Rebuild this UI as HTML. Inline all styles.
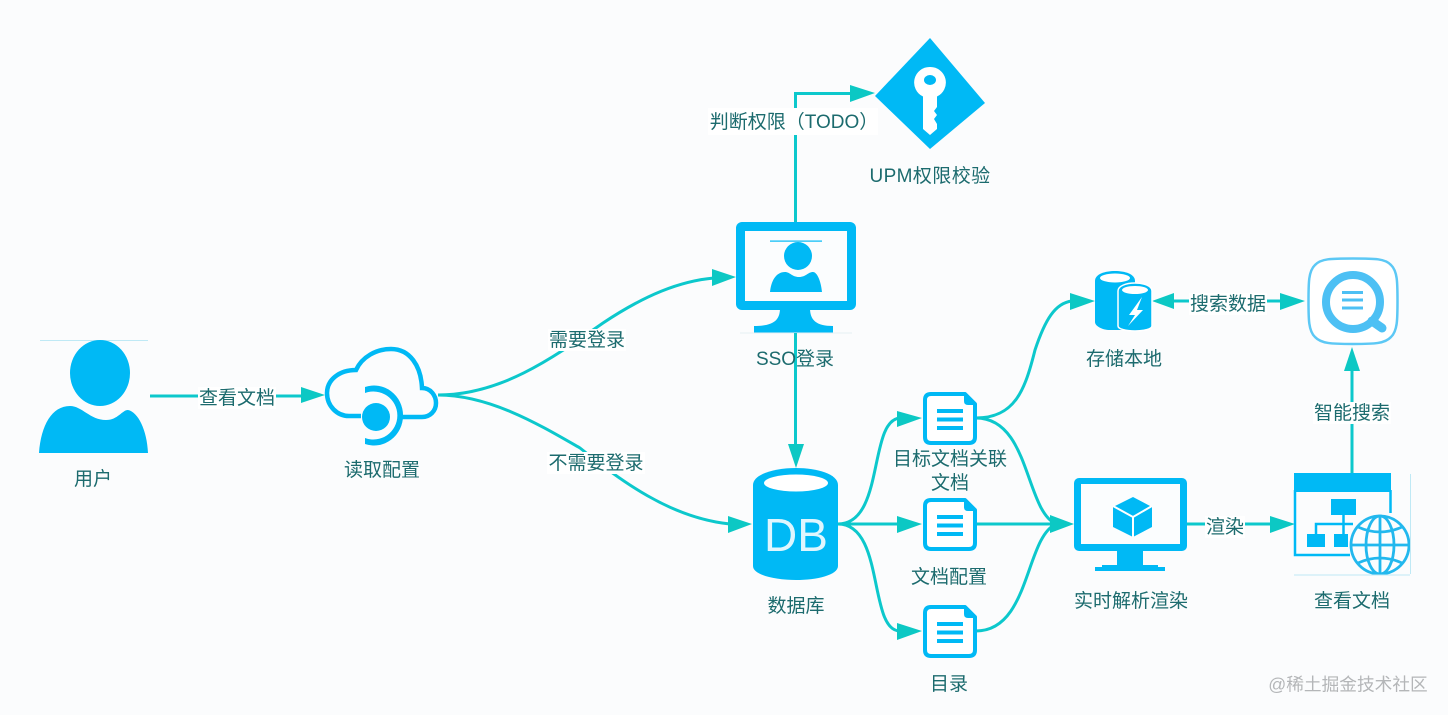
<!DOCTYPE html>
<html><head><meta charset="utf-8"><style>
html,body{margin:0;padding:0;background:#fbfcfd;width:1448px;height:715px;overflow:hidden}
svg{display:block}
text{font-family:"Liberation Sans","Noto Sans CJK SC",sans-serif;font-size:19px;fill:#1c6b6e;text-anchor:middle;dominant-baseline:central}
.c{fill:none;stroke:#0cc8cc;stroke-width:3}
.h{fill:#0cc8c4}
.b{fill:#00b9f5}
.d{fill:#fff;stroke:#00b9f5;stroke-width:4;stroke-linejoin:round}
.bg{fill:#fff}
</style></head><body>
<svg width="1448" height="715" viewBox="0 0 1448 715" xmlns="http://www.w3.org/2000/svg">
<defs>
<g id="doc">
<path class="d" d="M8 2H42L52 12V45Q52 51 46 51H8Q2 51 2 45V8Q2 2 8 2Z"/>
<path class="b" d="M41 1L53 13H45Q41 13 41 9Z"/>
<rect class="b" x="14" y="17" width="26" height="4"/>
<rect class="b" x="14" y="25.500" width="26" height="4"/>
<rect class="b" x="14" y="34" width="26" height="4"/>
</g>
</defs>

<!-- connectors -->
<path class="c" d="M150 396H305"/>
<path class="c" d="M438 395C500 395 550 360 603 323C645 295 680 281 714 278"/>
<path class="c" d="M438 395C490 395 540 425 580 448C620 480 670 518 730 524"/>
<path class="c" d="M795.500 222V93.500H852"/>
<path class="c" d="M795.500 333V446"/>
<path class="c" d="M838 524C885 524 868 420 900 418"/>
<path class="c" d="M838 524H900"/>
<path class="c" d="M838 524C885 524 868 631 900 631"/>
<path class="c" d="M976 418C1015 418 1025 390 1035 350C1045 320 1055 303 1072 301"/>
<path class="c" d="M976 418C1030 418 1025 510 1056 524"/>
<path class="c" d="M976 524H1052"/>
<path class="c" d="M976 631C1030 631 1025 538 1056 524"/>
<path class="c" d="M1187 524H1272"/>
<path class="c" d="M1172 301H1282"/>
<path class="c" d="M1352 473V369"/>

<!-- arrowheads -->
<polygon class="h" points="325,395 301,387 301,403"/>
<polygon class="h" points="736,277 712,269 712,286"/>
<polygon class="h" points="752,524 728,516 728,533"/>
<polygon class="h" points="875,93 850,85 850,102"/>
<polygon class="h" points="796,468 788,444 804,444"/>
<polygon class="h" points="922,418 897,411 897,427"/>
<polygon class="h" points="922,524 897,516 897,533"/>
<polygon class="h" points="922,631 897,623 897,640"/>
<polygon class="h" points="1074,524 1050,515 1050,533"/>
<polygon class="h" points="1095,301 1070,293 1070,310"/>
<polygon class="h" points="1152,301 1174,293 1174,309"/>
<polygon class="h" points="1305,301 1280,293 1280,310"/>
<polygon class="h" points="1295,524 1270,516 1270,533"/>
<polygon class="h" points="1352,347 1344,371 1360,371"/>

<!-- user -->
<rect x="40" y="340" width="108" height="1" fill="#bfe9f5"/>
<ellipse class="b" cx="100" cy="373" rx="30" ry="33"/>
<path class="b" d="M39 453C41 425 52 406 70 406C82 406 90 420 106 420C118 420 122 410 128 410C138 412 147 430 148 453Z"/>

<!-- cloud -->
<path d="M361 416H349C337 416 327 406 327 393C327 380 339 370 356 370C362 357 376 349 391 349C410 349 421 366 422 388C431 388 436 396 436 403C436 411 430 417 422 417H402" fill="none" stroke="#00b9f5" stroke-width="4.500"/>
<path class="b" d="M365 387A29 30 0 1 1 365 444V438A24 24 0 1 0 365 393Z"/>
<circle class="b" cx="376" cy="417" r="14"/>

<!-- SSO monitor -->
<rect class="b" x="736" y="222" width="120" height="88" rx="6"/>
<rect x="745" y="231" width="102" height="70" fill="#fbfdfe"/>
<path class="b" d="M780 308H810C810 320 816 326 833 326V333H754V326C774 326 780 320 780 308Z"/>
<rect x="770" y="240.500" width="52" height="1.200" fill="#00b9f5"/>
<circle class="b" cx="798" cy="256" r="14"/>
<path class="b" d="M770 292C771 281 776 272 785 272C790 272 792 277 799 277C806 277 808 272 813 272C817 272 821 281 822 292Z"/>
<rect x="740" y="332.500" width="112" height="1" fill="#e6eff2"/>
<rect x="794" y="333" width="3" height="8" fill="#0cc8cc"/>

<!-- diamond -->
<polygon class="b" points="930,38 985,103 930,149 875,96"/>
<path fill="#fff" d="M930 67A15.500 15.500 0 0 1 937 96.500V107L934 111L937 115L934 119L937 124V129L930 135L923 129V96.500A15.500 15.500 0 0 1 930 67Z"/>
<ellipse class="b" cx="930" cy="80" rx="6" ry="5"/>

<!-- DB -->
<path class="b" d="M753 485C753 474 775 468 796 468C817 468 838 474 838 485V566C838 575 817 580 796 580C775 580 753 575 753 566Z"/>
<ellipse cx="796" cy="483" rx="32" ry="8.500" fill="#fff"/>
<text x="796" y="535" style="font-size:46px;fill:#dff6fe">DB</text>

<!-- docs -->
<use href="#doc" x="923" y="392"/>
<use href="#doc" x="923" y="498"/>
<use href="#doc" x="923" y="605"/>

<!-- storage -->
<path class="b" d="M1095 281C1095 274 1105 271 1115 271C1125 271 1135 274 1135 281V330H1110C1102 330 1095 326 1095 322Z"/>
<ellipse cx="1115" cy="278" rx="15" ry="4.500" fill="#fff"/>
<path class="b" stroke="#fff" stroke-width="1.500" d="M1118 291C1118 286 1126 283 1135 283C1144 283 1152 286 1152 291V326C1152 329 1144 331 1135 331C1126 331 1118 329 1118 326Z"/>
<ellipse cx="1135" cy="290" rx="13" ry="4" fill="#fff"/>
<polygon points="1142,297 1129,315 1135,315 1128,326 1143,310 1137,310" fill="#fff"/>

<!-- search -->
<path d="M1353 258.500C1375 258.500 1385 258.500 1391 265C1397.500 271 1397.500 283 1397.500 301C1397.500 319 1397.500 331 1391 337C1385 343.500 1375 344 1353 344C1331 344 1321 343.500 1315 337C1308.500 331 1308.500 319 1308.500 301C1308.500 283 1308.500 271 1315 265C1321 258.500 1331 258.500 1353 258.500Z" fill="#fff" stroke="#5cc8f5" stroke-width="2.500"/>
<circle cx="1353" cy="302" r="27" fill="none" stroke="#4dc0f4" stroke-width="8"/>
<path d="M1372 321L1382 328" stroke="#4dc0f4" stroke-width="9" stroke-linecap="round"/>
<path d="M1342 292.500H1363M1342 300H1363M1342 308H1363" stroke="#4dc0f4" stroke-width="3"/>

<!-- render monitor -->
<rect class="b" x="1074" y="478" width="113" height="73" rx="5"/>
<rect x="1081" y="484" width="99" height="60" fill="#fbfdfe"/>
<rect class="b" x="1117" y="550" width="26" height="17"/>
<path class="b" d="M1102 565H1158V567H1165V571H1095V567H1102Z"/>
<polygon class="b" points="1133,497 1152,507 1152,527 1133,537 1113,527 1113,507"/>
<path d="M1113 506L1133 517L1152 506M1133 517V537" fill="none" stroke="#fff" stroke-width="2"/>

<!-- web -->
<rect class="b" x="1294" y="473" width="97" height="19"/>
<path d="M1295 490V555H1350M1390.500 490V513" fill="none" stroke="#00b9f5" stroke-width="2.500"/>
<rect class="b" x="1331" y="499" width="25" height="16"/>
<rect class="b" x="1307" y="534" width="18" height="13"/>
<rect class="b" x="1334" y="534" width="14" height="13"/>
<path d="M1343.500 515V534M1316 534V524H1353" fill="none" stroke="#00b9f5" stroke-width="2.500"/>
<circle cx="1380" cy="545" r="30" fill="#fbfdfe"/>
<g fill="none" stroke="#22b8ee" stroke-width="2.800">
<circle cx="1380" cy="545" r="29"/>
<ellipse cx="1380" cy="545" rx="14" ry="29"/>
<path d="M1380 516V574M1351 545H1409M1358 527Q1380 537 1402 527M1358 563Q1380 553 1402 563"/>
</g>
<rect x="1294" y="574.500" width="116" height="1" fill="#bfe9f5"/>
<rect x="1410" y="474" width="1" height="100" fill="#bfe9f5"/>

<!-- label backgrounds -->
<rect class="bg" x="198" y="387" width="78" height="22"/>
<rect class="bg" x="548" y="329" width="78" height="22"/>
<rect class="bg" x="547" y="452" width="98" height="22"/>
<rect class="bg" x="708" y="108" width="170" height="27"/>
<rect class="bg" x="1189" y="293" width="78" height="22"/>
<rect class="bg" x="1205" y="516" width="40" height="22"/>
<rect class="bg" x="1313" y="402" width="78" height="22"/>

<!-- labels -->
<g transform="translate(0,1.500)">
<text x="93" y="478">用户</text>
<text x="237" y="397">查看文档</text>
<text x="382" y="469">读取配置</text>
<text x="587" y="339">需要登录</text>
<text x="596" y="462">不需要登录</text>
<text x="795" y="358">SSO登录</text>
<text x="794" y="121">判断权限（TODO）</text>
<text x="930" y="175" style="letter-spacing:.4px">UPM权限校验</text>
<text x="950" y="458">目标文档关联</text>
<text x="950" y="482">文档</text>
<text x="949" y="576">文档配置</text>
<text x="949" y="683">目录</text>
<text x="796" y="605">数据库</text>
<text x="1124" y="358">存储本地</text>
<text x="1228" y="303">搜索数据</text>
<text x="1131" y="600">实时解析渲染</text>
<text x="1225" y="526">渲染</text>
<text x="1352" y="600">查看文档</text>
<text x="1352" y="412">智能搜索</text>
<text x="1348" y="683" style="font-size:17.700px;fill:#b4b6b8">@稀土掘金技术社区</text>
</g>
</svg>
</body></html>
